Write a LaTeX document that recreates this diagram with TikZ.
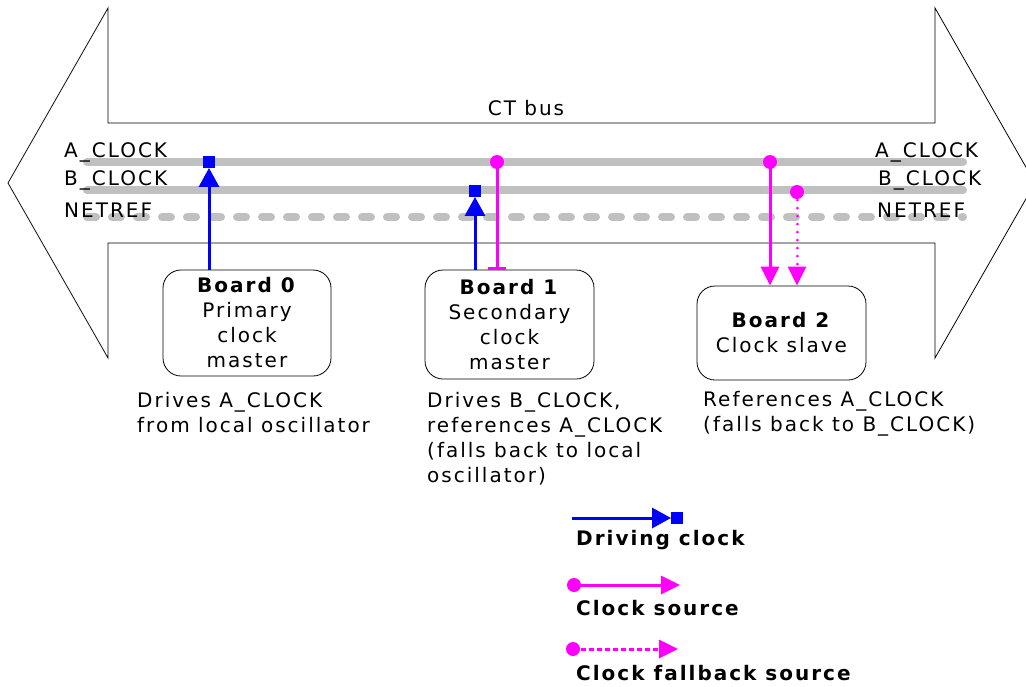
\documentclass[tikz,border=0pt]{standalone}
\usepackage{fontspec}
\setmainfont[LetterSpace=10]{DejaVu Sans}
\usetikzlibrary{arrows.meta}

\definecolor{busgray}{RGB}{192,192,192}
\definecolor{drvblue}{RGB}{0,0,255}
\definecolor{srcmag}{RGB}{255,0,255}

\tikzset{
  txt/.style={inner sep=0pt, font=\fontsize{20}{25}\selectfont},
  buslabel/.style={txt},
  busline/.style={line width=8pt, busgray, line cap=round},
  netline/.style={busline, dash pattern=on 9pt off 16pt},
  board/.style={draw, rounded corners=18pt, line width=0.8pt, align=center,
    inner sep=0pt, font=\fontsize{20}{25}\selectfont},
  caption/.style={txt, align=left, anchor=north west},
  sqtip/.style={fill=drvblue, inner sep=0pt, minimum size=11.5pt},
  srcdot/.style={circle, fill=srcmag, inner sep=0pt, minimum size=14pt},
  drive/.style={drvblue, line width=3pt, -{Triangle[width=20pt,length=19pt]}},
  source/.style={srcmag, line width=3pt, -{Triangle[width=18pt,length=19pt]}},
  fallback/.style={source, line cap=round, dash pattern=on 0.1pt off 7.9pt},
  legtext/.style={txt, anchor=west, font=\fontsize{20}{25}\selectfont\bfseries},
}

\begin{document}
\begin{tikzpicture}[x=1pt, y=-1pt]
\clip (0,0) rectangle (1026,686);

% double-headed bus outline
\draw[line width=0.8pt, line join=miter]
  (8,183) -- (108,8) -- (108,123) -- (935,123) -- (935,8) -- (1035,183)
  -- (935,358) -- (935,243) -- (108,243) -- (108,358) -- cycle;

\node[txt] (ctbus) at (526,108) {CT bus};

% the three bus signals
\coordinate (aL) at (87,162);  \coordinate (aR) at (963,162);
\coordinate (bL) at (87,190);  \coordinate (bR) at (963,190);
\coordinate (nL) at (87,217);  \coordinate (nR) at (963,217);
\draw[busline] (aL) -- (aR);
\draw[busline] (bL) -- (bR);
\draw[netline] (nL) -- (nR);

\node[buslabel, anchor=west] (aLlab) at (64,152) {A\_CLOCK};
\node[buslabel, anchor=west] (bLlab) at (64,180) {B\_CLOCK};
\node[buslabel, anchor=west] (nLlab) at (64,210) {NETREF};
\node[buslabel, anchor=west] (aRlab) at (875,152) {A\_CLOCK};
\node[buslabel, anchor=west] (bRlab) at (878,180) {B\_CLOCK};
\node[buslabel, anchor=west] (nRlab) at (877,210) {NETREF};

% boards
\node[board, minimum width=168pt, minimum height=106pt] (b0) at (247,323)
  {\textbf{Board 0}\\Primary\\clock\\master};
\node[board, minimum width=169pt, minimum height=109pt] (b1) at (509.5,324.5)
  {\textbf{Board 1}\\Secondary\\clock\\master};
\node[board, minimum width=169pt, minimum height=94pt] (b2) at (781.5,333)
  {\textbf{Board 2}\\Clock slave};

% board 0 drives A_CLOCK
\node[sqtip] (q0) at (209,162) {};
\draw[drive] (b0.north -| q0) -- (q0.south);

% board 1 drives B_CLOCK and takes A_CLOCK
\node[sqtip] (q1) at (475,191) {};
\draw[drive] (b1.north -| q1) -- (q1.south);
\node[srcdot] (c1) at (497,162) {};
\draw[srcmag, line width=3pt, -{Bar[width=18pt,line width=3pt]}] (c1.center) -- (c1 |- b1.north);

% board 2 takes A_CLOCK, falls back to B_CLOCK
\node[srcdot] (c2a) at (770,162) {};
\node[srcdot] (c2b) at (797,192) {};
\draw[source] (c2a.center) -- (c2a |- b2.north);
\draw[fallback] (c2b.center) -- (c2b |- b2.north);

% board captions
\node[caption] (t0) at (137,392) {Drives A\_CLOCK\\from local oscillator};
\node[caption] (t1) at (427,392) {Drives B\_CLOCK,\\references A\_CLOCK\\(falls back to local\\oscillator)};
\node[caption] (t2) at (703,391) {References A\_CLOCK\\(falls back to B\_CLOCK)};

% legend
\coordinate (l1s) at (572,518);
\node[sqtip] (l1q) at (677,518) {};
\draw[drive] (l1s) -- (l1q.west);
\node[legtext] (l1t) at (576,540) {Driving clock};

\node[srcdot] (l2c) at (574,585) {};
\coordinate (l2e) at (680,585);
\draw[source] (l2c.center) -- (l2e);
\node[legtext] (l2t) at (576,608) {Clock source};

\node[srcdot] (l3c) at (573,649) {};
\coordinate (l3e) at (678,649);
\draw[source, dash pattern=on 5pt off 3pt] (l3c.center) -- (l3e);
\node[legtext] (l3t) at (576,673) {Clock fallback source};
\end{tikzpicture}
\end{document}
